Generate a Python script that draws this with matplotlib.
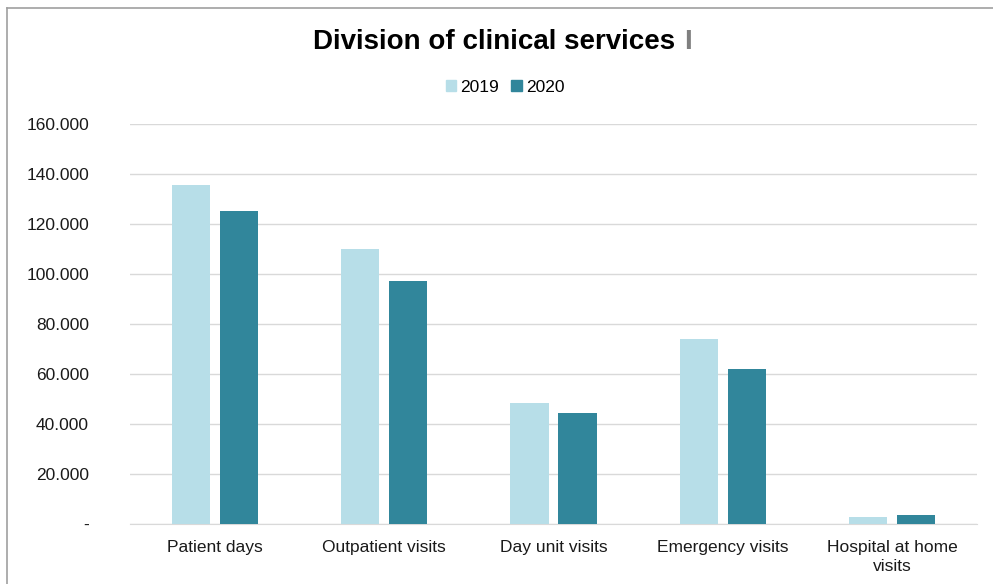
import matplotlib
matplotlib.use("Agg")
import matplotlib.pyplot as plt
from matplotlib.lines import Line2D
from matplotlib.patches import Patch
import numpy as np

categories = ["Patient days", "Outpatient visits", "Day unit visits",
              "Emergency visits", "Hospital at home\nvisits"]
values_2019 = [135600, 110000, 48400, 74000, 2800]
values_2020 = [125200, 97200, 44400, 62000, 3600]
yticks = [0, 20000, 40000, 60000, 80000, 100000, 120000, 140000, 160000]
ytick_labels = ["-", "20.000", "40.000", "60.000", "80.000",
                "100.000", "120.000", "140.000", "160.000"]

c2019 = "#B7DEE8"
c2020 = "#31869B"

plt.rcParams['font.family'] = ['Liberation Sans', 'DejaVu Sans']

W, H = 993, 584
fig = plt.figure(figsize=(W / 100, H / 100), dpi=100)
ax = fig.add_axes([130 / W, 1 - 524 / H, 847 / W, 400 / H])

x = np.arange(len(categories))
bw = 0.225
gap = 0.059
ax.bar(x - (bw + gap) / 2, values_2019, bw, color=c2019, zorder=3)
ax.bar(x + (bw + gap) / 2, values_2020, bw, color=c2020, zorder=3)

ax.set_xlim(-0.5, len(categories) - 0.5)
ax.set_ylim(0, 160000)
ax.set_yticks(yticks)
ax.set_yticklabels(ytick_labels, fontsize=12.5, color="#1a1a1a")
ax.set_xticks(x)
ax.set_xticklabels(categories, fontsize=12.5, color="#1a1a1a", linespacing=1.3)
ax.tick_params(axis="x", length=0, pad=11.5)
ax.tick_params(axis="y", length=0, pad=29.5)
ax.grid(axis="y", color="#D9D9D9", linewidth=1, zorder=0)
for s in ["top", "right", "left"]:
    ax.spines[s].set_visible(False)
ax.spines["bottom"].set_color("#D9D9D9")

# title: black text plus a grey bar mark at the end
fig.text(313 / W, 1 - 42 / H, "Division of clinical services ", ha="left", va="center",
         fontsize=20, fontweight="bold", color="#000000")
fig.text(684 / W, 1 - 42 / H, "I", ha="left", va="center", fontsize=20,
         fontweight="bold", color="#7F7F7F")

handles = [Patch(color=c2019, label="2019"), Patch(color=c2020, label="2020")]
fig.legend(handles=handles, loc="center", bbox_to_anchor=(505 / W, 1 - 87 / H), ncol=2,
           frameon=False, fontsize=12.5, handlelength=0.6, handleheight=0.6,
           handletextpad=0.25, columnspacing=0.7)

fig.add_artist(Line2D([7 / W, 7 / W], [0, 1 - 8 / H], color="#A0A0A0", linewidth=1.2))
fig.add_artist(Line2D([7 / W, 1], [1 - 8 / H, 1 - 8 / H], color="#A0A0A0", linewidth=1.2))

fig.savefig("out.png", dpi=100)
